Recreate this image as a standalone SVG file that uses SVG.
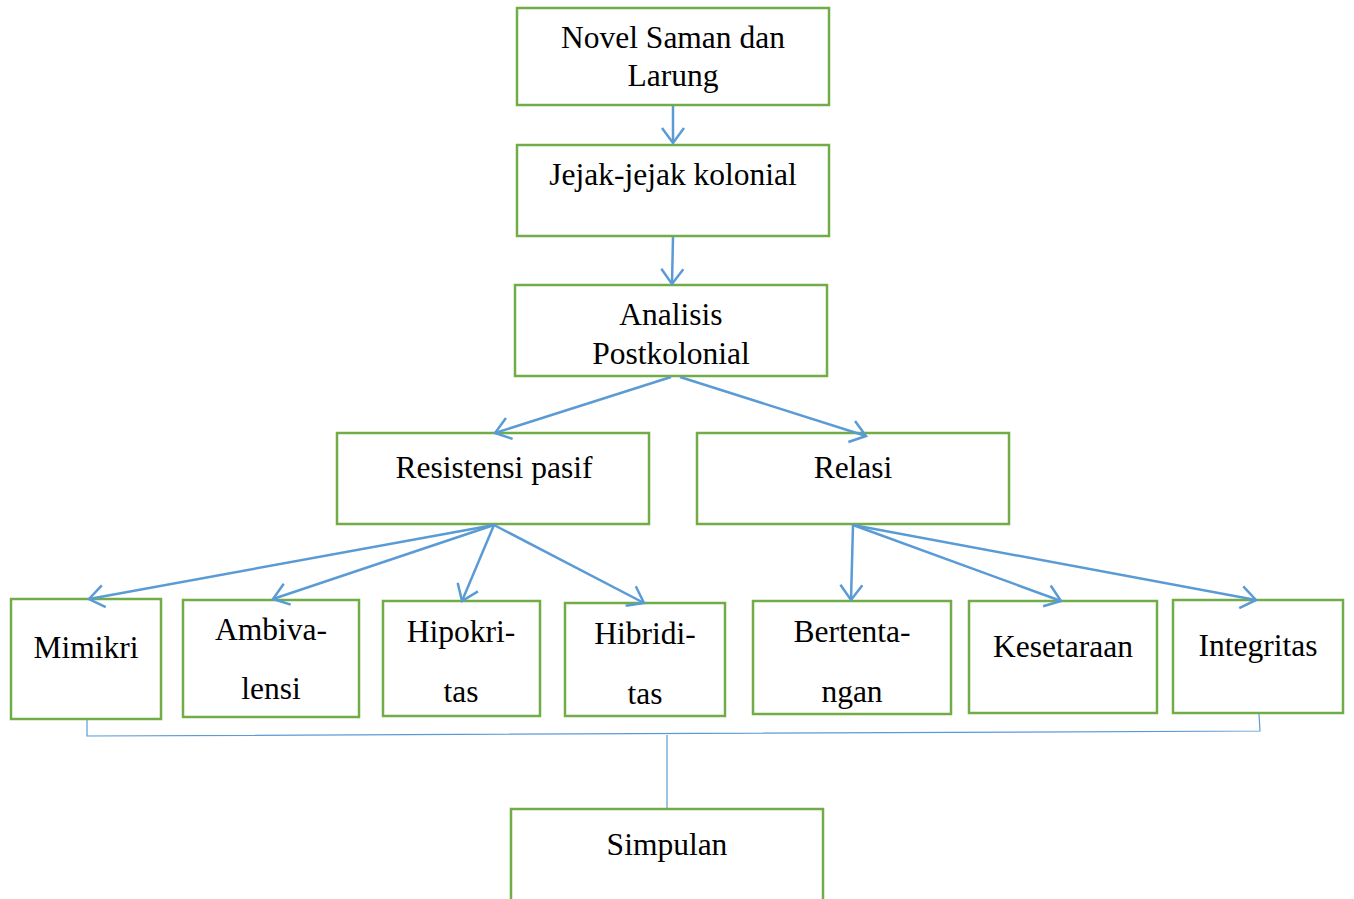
<svg xmlns="http://www.w3.org/2000/svg" width="1354" height="899" viewBox="0 0 1354 899">
<style>
.box{fill:#fff;stroke:#70AD47;stroke-width:2.5}
.t{font-family:"Liberation Serif","Times New Roman",serif;font-size:31.5px;fill:#000;text-anchor:middle}
.c{fill:none;stroke:#5B9BD5;stroke-width:2.5}
.thin{fill:none;stroke:#5B9BD5;stroke-width:1.2}
</style>
<defs>
<marker id="ah" markerUnits="userSpaceOnUse" markerWidth="20" markerHeight="26" refX="16" refY="13" orient="auto" viewBox="0 0 20 26">
<path d="M1,2 L16,13 L1,24" fill="none" stroke="#5B9BD5" stroke-width="2.5"/>
</marker>
</defs>
<rect width="1354" height="899" fill="#fff"/>
<g id="n-novel"><rect class="box" x="517" y="8" width="312" height="97"/><text class="t" x="673" y="48">Novel Saman dan</text><text class="t" x="673" y="86">Larung</text></g>
<g id="n-jejak"><rect class="box" x="517" y="145" width="312" height="91"/><text class="t" x="673" y="185">Jejak-jejak kolonial</text></g>
<g id="n-analisis"><rect class="box" x="515" y="285" width="312" height="91"/><text class="t" x="671" y="325">Analisis</text><text class="t" x="671" y="364">Postkolonial</text></g>
<g id="n-resistensi"><rect class="box" x="337" y="433" width="312" height="91"/><text class="t" x="494" y="478">Resistensi pasif</text></g>
<g id="n-relasi"><rect class="box" x="697" y="433" width="312" height="91"/><text class="t" x="853" y="478">Relasi</text></g>
<g id="n-mimikri"><rect class="box" x="11" y="599" width="150" height="120"/><text class="t" x="86" y="658">Mimikri</text></g>
<g id="n-ambivalensi"><rect class="box" x="183" y="600" width="176" height="117"/><text class="t" x="271" y="640">Ambiva-</text><text class="t" x="271" y="699">lensi</text></g>
<g id="n-hipokritas"><rect class="box" x="383" y="601" width="157" height="115"/><text class="t" x="461" y="642">Hipokri-</text><text class="t" x="461" y="702">tas</text></g>
<g id="n-hibriditas"><rect class="box" x="565" y="603" width="160" height="113"/><text class="t" x="645" y="644">Hibridi-</text><text class="t" x="645" y="704">tas</text></g>
<g id="n-bertentangan"><rect class="box" x="753" y="601" width="198" height="113"/><text class="t" x="852" y="642">Bertenta-</text><text class="t" x="852" y="702">ngan</text></g>
<g id="n-kesetaraan"><rect class="box" x="969" y="601" width="188" height="112"/><text class="t" x="1063" y="657">Kesetaraan</text></g>
<g id="n-integritas"><rect class="box" x="1173" y="600" width="170" height="113"/><text class="t" x="1258" y="656">Integritas</text></g>
<g id="n-simpulan"><rect class="box" x="511" y="809" width="312" height="100"/><text class="t" x="667" y="855">Simpulan</text></g>
<g id="connectors">
<line class="c" x1="673" y1="106" x2="673" y2="143" marker-end="url(#ah)"/>
<line class="c" x1="673" y1="237" x2="672" y2="284" marker-end="url(#ah)"/>
<line class="c" x1="671" y1="377" x2="495" y2="433" marker-end="url(#ah)"/>
<line class="c" x1="680" y1="377" x2="866" y2="436" marker-end="url(#ah)"/>
<line class="c" x1="494" y1="525" x2="89" y2="599" marker-end="url(#ah)"/>
<line class="c" x1="494" y1="525" x2="273" y2="599" marker-end="url(#ah)"/>
<line class="c" x1="494" y1="525" x2="462" y2="601" marker-end="url(#ah)"/>
<line class="c" x1="494" y1="525" x2="644" y2="603" marker-end="url(#ah)"/>
<line class="c" x1="853" y1="525" x2="851" y2="600" marker-end="url(#ah)"/>
<line class="c" x1="853" y1="525" x2="1061" y2="601" marker-end="url(#ah)"/>
<line class="c" x1="853" y1="525" x2="1256" y2="600" marker-end="url(#ah)"/>
<polyline class="thin" points="87,720 87,736 1260,731 1259,714"/>
<line class="thin" x1="667" y1="735" x2="667" y2="808"/>
</g>
</svg>
